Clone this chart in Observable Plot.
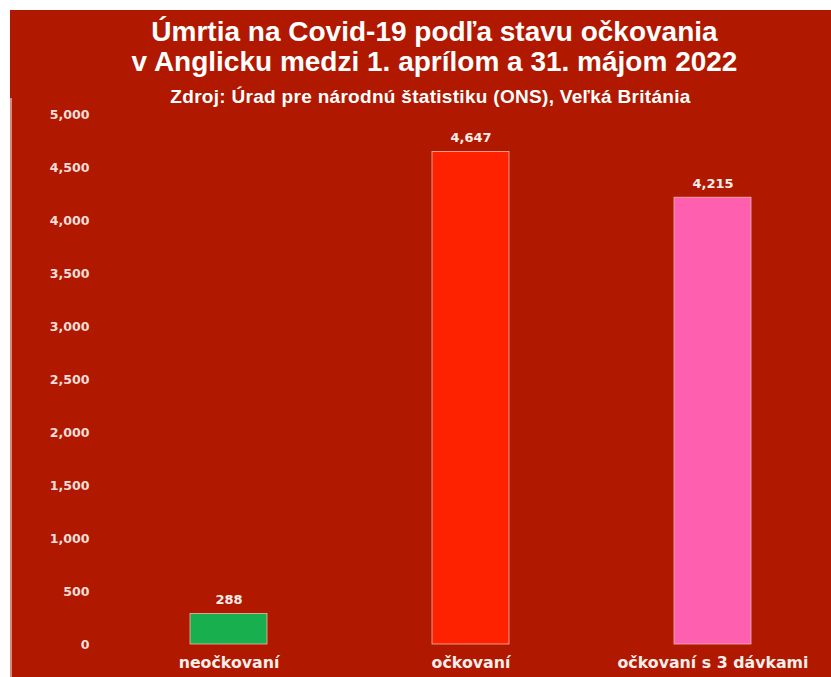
<!DOCTYPE html>
<html><head><meta charset="utf-8">
<script src="https://cdn.jsdelivr.net/npm/d3@7"></script>
<script src="https://cdn.jsdelivr.net/npm/@observablehq/plot@0.6"></script>
<style>
html,body{margin:0;padding:0;background:#fff;width:831px;height:677px;overflow:hidden}
#panel{position:absolute;left:10px;top:10px;width:821px;height:667px;background:#B01800}
#edge{position:absolute;left:10px;top:98px;width:2px;height:579px;background:#D98A7E}
.t{position:absolute;left:24px;width:821px;text-align:center;color:#fff;font-family:"Liberation Sans",Arial,sans-serif;font-weight:bold;white-space:nowrap;line-height:normal}
#t1{top:16px;font-size:28px}
#t2{top:46px;font-size:28px}
#sub{top:86px;font-size:19px;letter-spacing:0.3px;left:20px}
#chart{position:absolute;left:0;top:100px}
</style></head>
<body>
<div id="panel"></div>
<div id="edge"></div>
<div class="t" id="t1">Úmrtia na Covid-19 podľa stavu očkovania</div>
<div class="t" id="t2">v Anglicku medzi 1. aprílom a 31. májom 2022</div>
<div class="t" id="sub">Zdroj: Úrad pre národnú štatistiku (ONS), Veľká Británia</div>
<div id="chart"></div>
<script>
const categories = ["neočkovaní", "očkovaní", "očkovaní s 3 dávkami"];
const deaths = [288, 4647, 4215];
const colors = ["#18B04F", "#FF2200", "#FF5FAF"];
const yTicks = [0, 500, 1000, 1500, 2000, 2500, 3000, 3500, 4000, 4500, 5000];

const data = categories.map((c, i) => ({cat: c, value: deaths[i], color: colors[i]}));
const fmt = d3.format(",");
const font = "'DejaVu Sans', Verdana, sans-serif";

const chart = Plot.plot({
  width: 831,
  height: 577,
  marginLeft: 107,
  marginRight: 0,
  marginTop: 14,
  marginBottom: 33,
  style: {background: "transparent", fontFamily: font, fontWeight: "bold", overflow: "visible"},
  x: {domain: categories, range: [107, 834], paddingInner: 0.68, paddingOuter: 0.34, label: null},
  y: {domain: [0, 5000], label: null},
  marks: [
    Plot.ruleY(yTicks, {x1: 107, x2: 831, stroke: "#DA8276", strokeWidth: 1.2}),
    Plot.barY(data, {x: "cat", y: "value", fill: "color", stroke: "#F2B8AE", strokeWidth: 0.8}),
    Plot.text(data, {x: "cat", y: "value", text: d => fmt(d.value), dy: -14, fill: "#FBEDEA", fontSize: 13, fontWeight: "bold", fontFamily: font}),
    Plot.axisY({ticks: yTicks, tickFormat: fmt, tickSize: 0, tickPadding: 18, fontSize: 12.6, fontWeight: "bold", fill: "#F6DED8", fontFamily: font}),
    Plot.axisX({tickSize: 0, tickPadding: 12, fontSize: 15.8, fontWeight: "bold", fill: "#FBEDEA", fontFamily: font})
  ]
});
document.getElementById("chart").appendChild(chart);
</script>
</body></html>
